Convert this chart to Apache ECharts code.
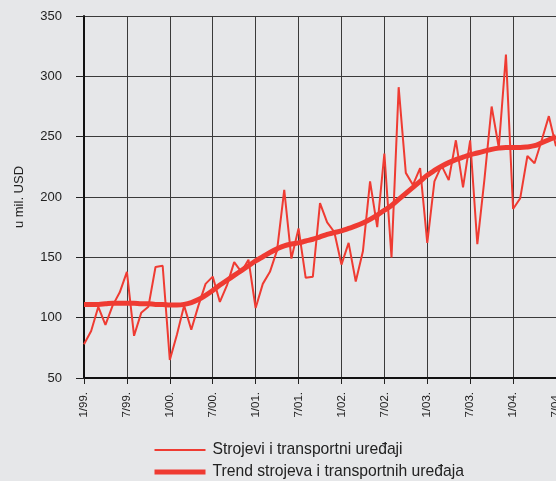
<!DOCTYPE html>
<html>
<head>
<meta charset="utf-8">
<script src="https://cdn.jsdelivr.net/npm/echarts@6/dist/echarts.min.js"></script>
<style>
  html, body { margin: 0; padding: 0; background: #e6e7e9; }
  #chart { width: 556px; height: 481px; }
</style>
</head>
<body>
<div id="chart"></div>
<script>
// Monthly values, January 1999 – July 2004 (mil. USD)
const years = ['99', '00', '01', '02', '03', '04'];
const lastMonth = 7; // data for 2004 ends in July

const strojevi = [
  78, 89, 109, 94, 110, 121, 138, 85, 104, 109, 142, 143,
  65, 86, 110, 90, 110, 128, 134, 113, 127, 146, 138, 148,
  108, 128, 138, 156, 206, 149, 174, 133, 134, 195, 179, 171,
  144, 162, 130, 155, 213, 175, 236, 150, 291, 220, 210, 224,
  162, 213, 226, 214, 247, 208, 247, 161, 215, 275, 241, 318,
  190, 199, 234, 228, 247, 267, 242
];

const trend = [
  111, 111, 111, 111.5, 112, 112, 112, 112, 111.5, 111.5, 111, 111,
  110.5, 110.5, 111, 112.5, 115, 118.5, 122.5, 127, 131, 135, 139, 143,
  147, 150.5, 154, 157, 159.5, 161, 162, 163.5, 165, 167, 169, 170.5,
  172, 174, 176, 178.5, 181.5, 185, 189, 193, 198, 203, 208, 213,
  218, 222, 225.5, 228.5, 231, 233, 235, 236.5, 238, 239.5, 240.5, 241,
  241, 241, 241.5, 242.5, 245, 247.5, 250
];

const seriesNames = ['Strojevi i transportni uređaji', 'Trend strojeva i transportnih uređaja'];

// month labels such as "1/99."
const categories = [];
years.forEach((y, k) => {
  const end = k === years.length - 1 ? lastMonth : 12;
  for (let m = 1; m <= end; m++) categories.push(m + '/' + y + '.');
});

const red = '#ef3b32';
const font = 'Liberation Sans, Arial, Helvetica, sans-serif';

const chart = echarts.init(document.getElementById('chart'));
chart.setOption({
  backgroundColor: '#e6e7e9',
  animation: false,
  grid: { left: 84, right: 0, top: 16, bottom: 103, outerBoundsMode: 'none' },
  legend: {
    orient: 'vertical',
    left: 152,
    top: 441,
    padding: 0,
    itemWidth: 51,
    itemHeight: 14,
    itemGap: 4,
    itemStyle: { opacity: 0 },
    lineStyle: { width: 'inherit' },
    textStyle: { fontFamily: font, fontSize: 15.7, lineHeight: 18, color: '#222', padding: [0, 0, 0, 2] },
    data: seriesNames
  },
  xAxis: {
    type: 'category',
    boundaryGap: false,
    data: categories,
    axisLine: { lineStyle: { color: '#111', width: 2 } },
    axisTick: { interval: 5, length: 6, lineStyle: { color: '#222', width: 1 } },
    axisLabel: {
      interval: 5, rotate: 90, margin: 14,
      fontFamily: font, fontSize: 11.5, color: '#222'
    },
    splitLine: { show: true, interval: 5, lineStyle: { color: '#3a3a3a', width: 1 } }
  },
  yAxis: {
    type: 'value',
    min: 50, max: 350, interval: 50,
    name: 'u mil. USD',
    nameLocation: 'middle',
    nameGap: 58,
    nameTextStyle: { fontFamily: font, fontSize: 13, color: '#222' },
    axisLine: { show: true, lineStyle: { color: '#111', width: 2 } },
    axisTick: { show: true, length: 8, lineStyle: { color: '#222', width: 1 } },
    axisLabel: { margin: 22, fontFamily: font, fontSize: 13, color: '#222' },
    splitLine: { show: true, lineStyle: { color: '#3a3a3a', width: 1 } }
  },
  series: [
    {
      name: seriesNames[0],
      type: 'line',
      data: strojevi,
      symbol: 'none',
      lineStyle: { color: red, width: 2 },
      itemStyle: { color: red },
      z: 3
    },
    {
      name: seriesNames[1],
      type: 'line',
      data: trend,
      symbol: 'none',
      smooth: 0.4,
      lineStyle: { color: red, width: 5 },
      itemStyle: { color: red },
      z: 4
    }
  ]
});
</script>
</body>
</html>
